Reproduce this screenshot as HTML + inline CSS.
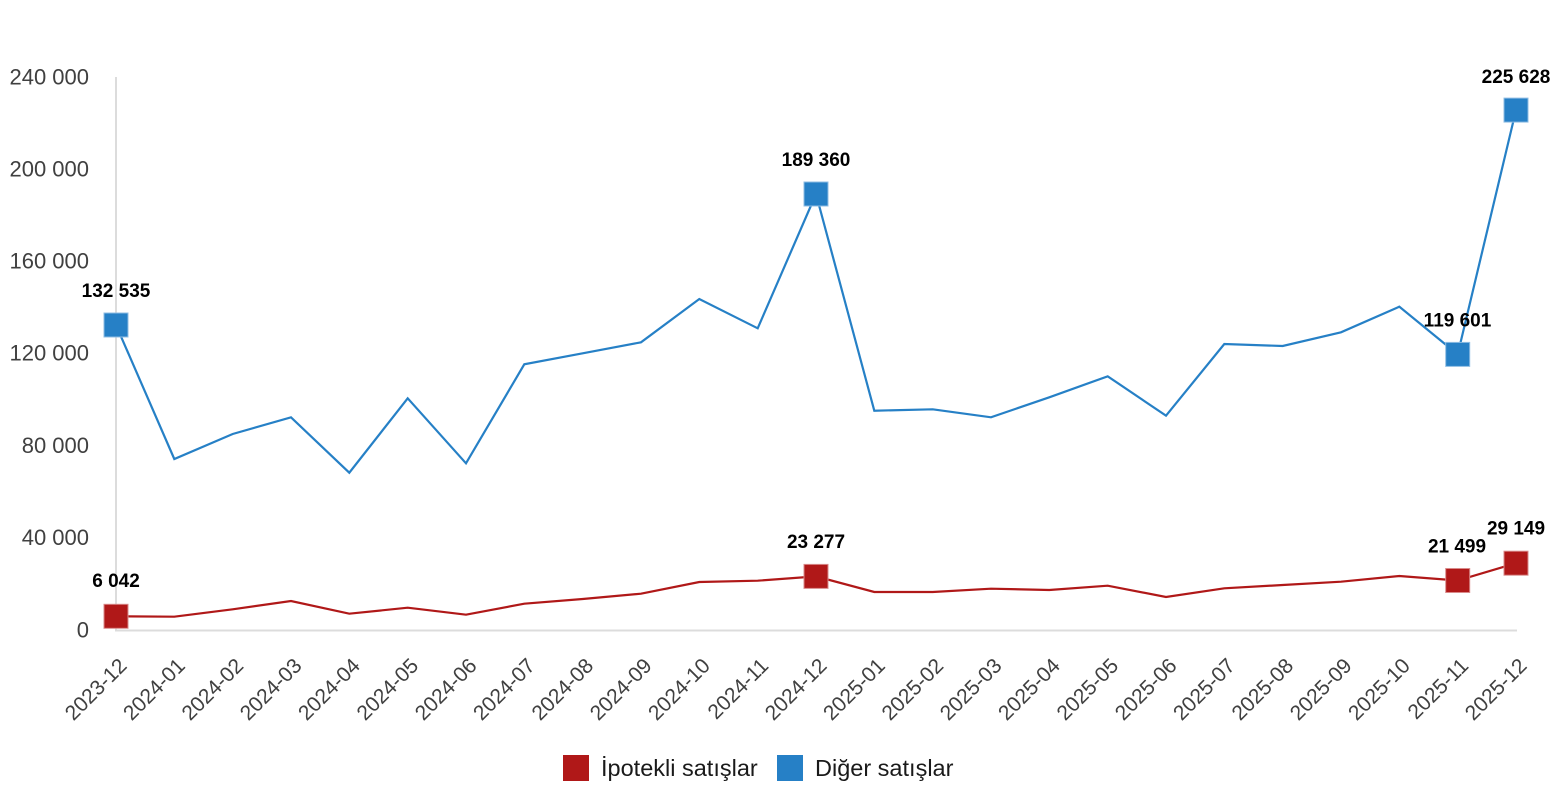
<!DOCTYPE html>
<html>
<head>
<meta charset="utf-8">
<style>
html,body{margin:0;padding:0;background:#fff;}
svg{display:block;}
text{font-family:"Liberation Sans",Arial,sans-serif;}
</style>
</head>
<body>
<svg width="1556" height="800" viewBox="0 0 1556 800" xmlns="http://www.w3.org/2000/svg">
  <rect width="1556" height="800" fill="#fff"/>
  <!-- axes -->
  <line x1="116" y1="77" x2="116" y2="631" stroke="#dcdcdc" stroke-width="2"/>
  <line x1="115" y1="630.5" x2="1517" y2="630.5" stroke="#dcdcdc" stroke-width="2"/>

  <!-- y tick labels -->
  <g font-size="22" fill="#404040" text-anchor="end">
    <text x="89" y="84.5">240 000</text>
    <text x="89" y="176.5">200 000</text>
    <text x="89" y="268.5">160 000</text>
    <text x="89" y="360.5">120 000</text>
    <text x="89" y="453">80 000</text>
    <text x="89" y="545">40 000</text>
    <text x="89" y="637.5">0</text>
  </g>

  <!-- x tick labels -->
  <g font-size="21" fill="#404040" text-anchor="end">
    <text transform="translate(128,667) rotate(-45)">2023-12</text>
    <text transform="translate(186.3,667) rotate(-45)">2024-01</text>
    <text transform="translate(244.7,667) rotate(-45)">2024-02</text>
    <text transform="translate(303,667) rotate(-45)">2024-03</text>
    <text transform="translate(361.3,667) rotate(-45)">2024-04</text>
    <text transform="translate(419.7,667) rotate(-45)">2024-05</text>
    <text transform="translate(478,667) rotate(-45)">2024-06</text>
    <text transform="translate(536.3,667) rotate(-45)">2024-07</text>
    <text transform="translate(594.7,667) rotate(-45)">2024-08</text>
    <text transform="translate(653,667) rotate(-45)">2024-09</text>
    <text transform="translate(711.3,667) rotate(-45)">2024-10</text>
    <text transform="translate(769.7,667) rotate(-45)">2024-11</text>
    <text transform="translate(828,667) rotate(-45)">2024-12</text>
    <text transform="translate(886.3,667) rotate(-45)">2025-01</text>
    <text transform="translate(944.7,667) rotate(-45)">2025-02</text>
    <text transform="translate(1003,667) rotate(-45)">2025-03</text>
    <text transform="translate(1061.3,667) rotate(-45)">2025-04</text>
    <text transform="translate(1119.7,667) rotate(-45)">2025-05</text>
    <text transform="translate(1178,667) rotate(-45)">2025-06</text>
    <text transform="translate(1236.3,667) rotate(-45)">2025-07</text>
    <text transform="translate(1294.7,667) rotate(-45)">2025-08</text>
    <text transform="translate(1353,667) rotate(-45)">2025-09</text>
    <text transform="translate(1411.3,667) rotate(-45)">2025-10</text>
    <text transform="translate(1469.7,667) rotate(-45)">2025-11</text>
    <text transform="translate(1528,667) rotate(-45)">2025-12</text>
  </g>

  <!-- blue series -->
  <polyline fill="none" stroke="#2680C6" stroke-width="2.2" stroke-linejoin="miter"
    points="116,325 174.3,459 232.7,434 291,417.3 349.3,472.7 407.7,398.3 466,463.3 524.3,364.3 582.7,353.3 641,342.3 699.3,299 757.7,328.3 816,194 874.3,410.7 932.7,409.3 991,417.3 1049.3,397.3 1107.7,376.3 1166,415.7 1224.3,344 1282.7,346 1341,332.3 1399.3,306.7 1457.7,354.4 1516,110.1"/>

  <!-- red series -->
  <polyline fill="none" stroke="#B01818" stroke-width="2.2" stroke-linejoin="miter"
    points="116,616.3 174.3,616.7 232.7,609.3 291,601 349.3,613.7 407.7,607.7 466,614.7 524.3,603.7 582.7,599 641,593.7 699.3,582 757.7,580.7 816,576.4 874.3,592 932.7,592 991,588.7 1049.3,590 1107.7,585.7 1166,597 1224.3,588.3 1282.7,585 1341,581.7 1399.3,576 1457.7,580.5 1516,563.2"/>

  <!-- blue markers -->
  <g fill="#2680C6" stroke="#8fbde3" stroke-width="1">
    <rect x="104" y="313" width="24" height="24"/>
    <rect x="804" y="182" width="24" height="24"/>
    <rect x="1445.7" y="342.4" width="24" height="24"/>
    <rect x="1504" y="98.1" width="24" height="24"/>
  </g>
  <!-- red markers -->
  <g fill="#B01818" stroke="#d98a8a" stroke-width="1">
    <rect x="104" y="604.3" width="24" height="24"/>
    <rect x="804" y="564.4" width="24" height="24"/>
    <rect x="1445.7" y="568.5" width="24" height="24"/>
    <rect x="1504" y="551.2" width="24" height="24"/>
  </g>

  <!-- data labels -->
  <g font-size="19" font-weight="bold" fill="#000" text-anchor="middle">
    <text x="116" y="297">132 535</text>
    <text x="816" y="166">189 360</text>
    <text x="1457.5" y="326.5">119 601</text>
    <text x="1516" y="83">225 628</text>
    <text x="116" y="587">6 042</text>
    <text x="816" y="548">23 277</text>
    <text x="1457" y="552.5">21 499</text>
    <text x="1516" y="534.5">29 149</text>
  </g>

  <!-- legend -->
  <rect x="563" y="755" width="26" height="26" fill="#B01818"/>
  <text x="601" y="776" font-size="23.5" fill="#1a1a1a">İpotekli satışlar</text>
  <rect x="777" y="755" width="26" height="26" fill="#2680C6"/>
  <text x="815" y="776" font-size="23.5" fill="#1a1a1a">Diğer satışlar</text>
</svg>
</body>
</html>
